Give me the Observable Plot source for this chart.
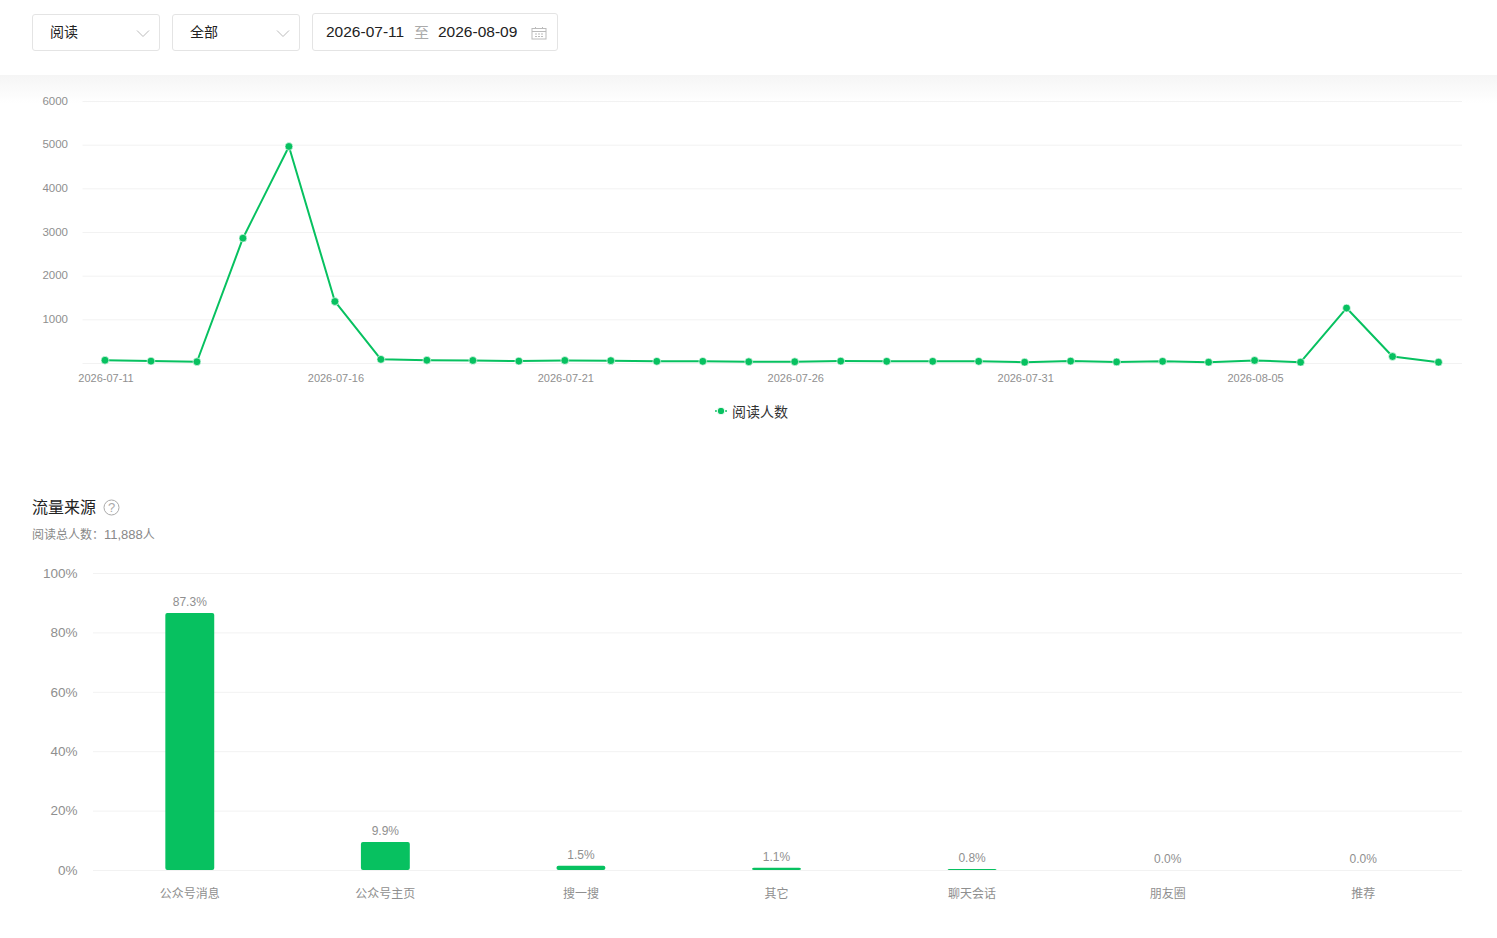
<!DOCTYPE html>
<html lang="zh">
<head>
<meta charset="utf-8">
<script src="https://cdn.jsdelivr.net/npm/d3@7"></script>
<script src="https://cdn.jsdelivr.net/npm/@observablehq/plot@0.6"></script>
<style>
html,body{margin:0;padding:0;background:#fff;width:1497px;height:938px;overflow:hidden;font-family:"Liberation Sans","Noto Sans CJK SC",sans-serif;color:#1a1a1a}
.abs{position:absolute}
.ctl{position:absolute;box-sizing:border-box;background:#fff;border:1px solid #e4e4e4;border-radius:3px;font-size:14px;color:#222;display:flex;align-items:center}
.shadow{position:absolute;left:0;top:75px;width:1497px;height:28px;background:linear-gradient(#f5f5f5,#fff)}
.chart{position:absolute;left:0}
.chart svg{display:block;background:transparent;overflow:visible}
</style>
</head>
<body>
<div class="shadow"></div>
<div class="ctl" style="left:32px;top:14px;width:128px;height:37px;padding:0 0 3px 17px">阅读
  <svg class="abs" style="left:103px;top:14px" width="14" height="9"><path d="M1 1.5L7 7.5L13 1.5" fill="none" stroke="#bbb"/></svg></div>
<div class="ctl" style="left:172px;top:14px;width:128px;height:37px;padding:0 0 3px 17px">全部
  <svg class="abs" style="left:103px;top:14px" width="14" height="9"><path d="M1 1.5L7 7.5L13 1.5" fill="none" stroke="#bbb"/></svg></div>
<div class="ctl" style="left:312px;top:13px;width:246px;height:38px;font-size:15.5px">
  <span class="abs" style="left:13px;top:9px">2026-07-11</span>
  <span class="abs" style="left:101px;top:7px;color:#aaa;font-size:15px">至</span>
  <span class="abs" style="left:125px;top:9px">2026-08-09</span>
  <svg class="abs" style="left:218px;top:12px" width="16" height="14"><rect x="1" y="2.5" width="14" height="10.5" fill="none" stroke="#bbb"/><path d="M1 5.5H15M4.5 1V3M11.5 1V3M4 8H6M7 8H9M10 8H12M4 10.5H6M7 10.5H9M10 10.5H12" fill="none" stroke="#bbb"/></svg>
</div>
<div id="line" class="chart" style="top:90px"></div>
<div class="abs" style="left:715px;top:402px;height:18px;display:flex;align-items:center;font-size:14px;color:#333">
  <svg width="17" height="10"><path d="M0 5H12" stroke="#07c160" stroke-width="1.5"/><circle cx="6" cy="5" r="3.8" fill="#07c160" stroke="#fff"/></svg>阅读人数
</div>
<div class="abs" style="left:32px;top:497px;font-size:16px;line-height:22px;color:#222">流量来源</div>
<svg class="abs" style="left:103px;top:499px" width="17" height="17"><circle cx="8.5" cy="8.5" r="7.5" fill="none" stroke="#aaa"/><text x="8.5" y="13" text-anchor="middle" font-size="13" fill="#aaa" font-family="Liberation Sans">?</text></svg>
<div class="abs" style="left:32px;top:526px;font-size:12px;line-height:18px;color:#888">阅读总人数：<span style="font-size:13px">11,888</span>人</div>
<div id="bar" class="chart" style="top:560px"></div>
<script>
const GREEN = "#07c160", GRID = "#f2f2f2", MUTED = "#8f8f8f";
const FONT = '"Liberation Sans","Noto Sans CJK SC",sans-serif';

const days = ["2026-07-11","2026-07-12","2026-07-13","2026-07-14","2026-07-15","2026-07-16","2026-07-17","2026-07-18","2026-07-19","2026-07-20","2026-07-21","2026-07-22","2026-07-23","2026-07-24","2026-07-25","2026-07-26","2026-07-27","2026-07-28","2026-07-29","2026-07-30","2026-07-31","2026-08-01","2026-08-02","2026-08-03","2026-08-04","2026-08-05","2026-08-06","2026-08-07","2026-08-08","2026-08-09"];
const readers = [75,55,40,2870,4970,1420,95,75,70,55,70,65,50,50,40,40,55,50,50,50,30,55,35,50,30,70,30,1270,160,30];
const dayTicks = ["2026-07-11","2026-07-16","2026-07-21","2026-07-26","2026-07-31","2026-08-05"];
const readerTicks = [1000,2000,3000,4000,5000,6000];
const gridLevels = [0,1000,2000,3000,4000,5000,6000];

const sources = ["公众号消息","公众号主页","搜一搜","其它","聊天会话","朋友圈","推荐"];
const shareLabels = ["87.3%","9.9%","1.5%","1.1%","0.8%","0.0%","0.0%"];
const barHeights = [86.5,9.45,1.4,0.75,0.35,0,0];
const shareTicks = [0,20,40,60,80,100];

const lineRows = days.map((d,i)=>({day:d,value:readers[i]}));
const barRows = sources.map((s,i)=>({source:s,height:barHeights[i],label:shareLabels[i]}));

document.getElementById("line").append(Plot.plot({
  width:1497,height:300,marginTop:11,marginBottom:27,marginLeft:82.5,marginRight:35,
  style:{fontFamily:FONT,background:"transparent"},
  x:{type:"point",domain:days,padding:0.5,round:false,label:null},
  y:{domain:[0,6000],label:null},
  marks:[
    Plot.ruleY(gridLevels,{stroke:GRID,strokeWidth:1}),
    Plot.axisY({ticks:readerTicks,tickFormat:d=>String(d),tickSize:0,tickPadding:15,fontSize:11.5,color:MUTED,label:null,dy:-0.5}),
    Plot.axisX({ticks:dayTicks,tickSize:0,tickPadding:10,fontSize:11,color:MUTED,label:null,dy:0.5}),
    Plot.line(lineRows,{x:"day",y:"value",stroke:GREEN,strokeWidth:2,curve:"linear",dx:-1}),
    Plot.dot(lineRows,{x:"day",y:"value",r:3.9,fill:GREEN,stroke:"#fff",strokeOpacity:0.6,strokeWidth:1,dx:-1})
  ]
}));

document.getElementById("bar").append(Plot.plot({
  width:1497,height:345,marginTop:13,marginBottom:35,marginLeft:93,marginRight:35,
  style:{fontFamily:FONT,background:"transparent"},
  x:{type:"band",domain:sources,paddingInner:0.75,paddingOuter:0.375,round:false,label:null},
  y:{domain:[0,100],label:null},
  marks:[
    Plot.ruleY(shareTicks,{stroke:GRID,strokeWidth:1}),
    Plot.axisY({ticks:shareTicks,tickFormat:d=>d+"%",tickSize:0,tickPadding:16,fontSize:13.5,color:MUTED,label:null,dy:0}),
    Plot.axisX({tickSize:0,tickPadding:19,fontSize:12,color:MUTED,label:null,dx:-1.5}),
    Plot.barY(barRows,{x:"source",y:"height",fill:GREEN,rx:2,dx:-1}),
    Plot.text(barRows,{x:"source",y:"height",text:"label",dy:-11,dx:-1.5,fontSize:12,fill:MUTED})
  ]
}));
</script>
</body>
</html>
